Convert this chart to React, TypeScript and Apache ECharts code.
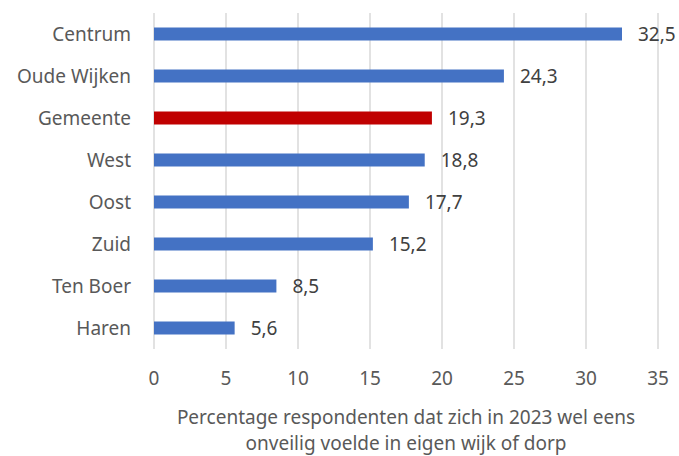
import React, { useEffect, useRef } from "react";
import * as echarts from "echarts";

const categories = ["Centrum", "Oude Wijken", "Gemeente", "West", "Oost", "Zuid", "Ten Boer", "Haren"];
const values = [32.5, 24.3, 19.3, 18.8, 17.7, 15.2, 8.5, 5.6];
const highlight = "Gemeente";
const xMin = 0;
const xMax = 35;
const xInterval = 5;
const axisTitle = "Percentage respondenten dat zich in 2023 wel eens\nonveilig voelde in eigen wijk of dorp";

const FONT = "'Noto Sans', 'Open Sans', sans-serif";

export default function App() {
  const ref = useRef<HTMLDivElement>(null);
  useEffect(() => {
    if (!ref.current) return;
    const chart = echarts.init(ref.current, undefined, { renderer: "svg" });
    chart.setOption({
      animation: false,
      textStyle: { fontFamily: FONT },
      grid: { left: 154, right: 21, top: 13, bottom: 107, containLabel: false, outerBoundsMode: "none" },
      xAxis: {
        type: "value",
        min: xMin,
        max: xMax,
        interval: xInterval,
        axisLine: { show: false },
        axisTick: { show: false },
        splitLine: { show: true, lineStyle: { color: "#d9d9d9", width: 1.5 } },
        axisLabel: { color: "#595959", fontSize: 19, margin: 19, fontFamily: FONT },
        name: axisTitle,
        nameLocation: "middle",
        nameGap: 55,
        nameTextStyle: { color: "#595959", fontSize: 19, lineHeight: 26, fontFamily: FONT },
      },
      yAxis: {
        type: "category",
        data: categories,
        inverse: true,
        axisLine: { show: false },
        axisTick: { show: false },
        axisLabel: { color: "#595959", fontSize: 19, margin: 23, fontFamily: FONT },
      },
      series: [
        {
          type: "bar",
          barWidth: 13,
          data: values.map((v, i) => ({
            value: v,
            itemStyle: { color: categories[i] === highlight ? "#C00000" : "#4472C4" },
          })),
          label: {
            show: true,
            position: "right",
            distance: 16,
            color: "#404040",
            fontSize: 19,
            fontFamily: FONT,
            formatter: (p: any) => String(p.value.toFixed(1)).replace(".", ","),
          },
        },
      ],
    });
    return () => chart.dispose();
  }, []);
  return <div ref={ref} style={{ width: 679, height: 456, position: "absolute", left: 0, top: 0 }} />;
}
